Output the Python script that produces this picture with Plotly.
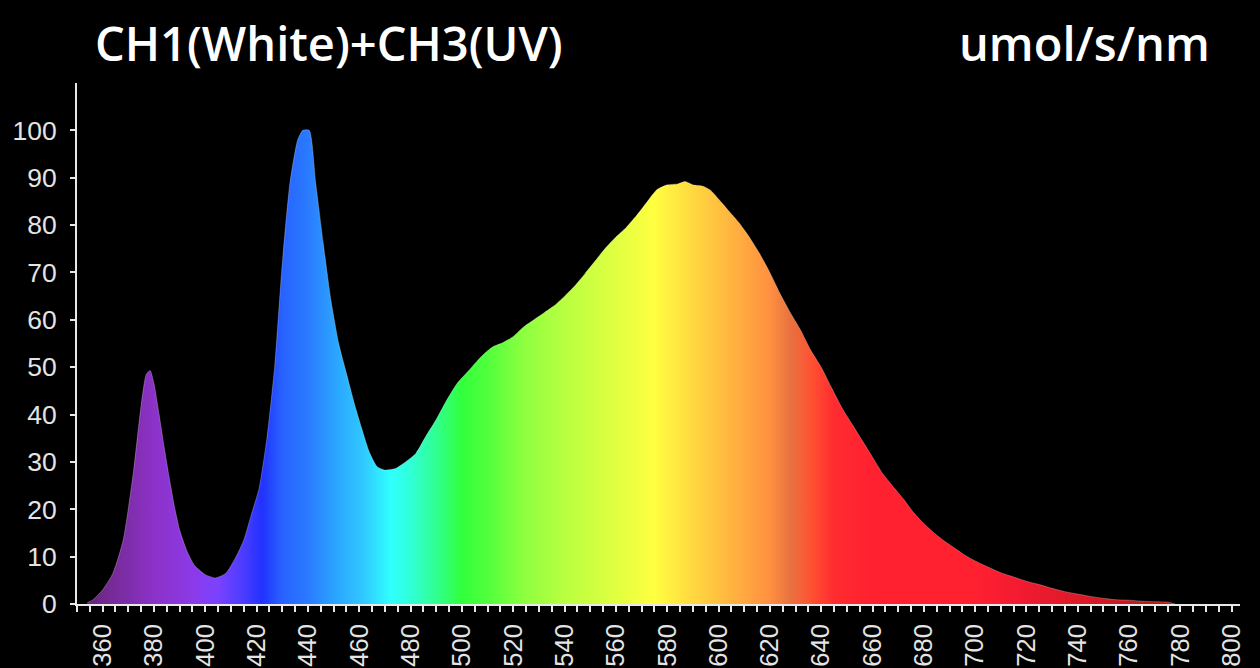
import plotly.graph_objects as go

# ---- data ----
wavelength_nm = [354, 356, 360, 364, 368, 372, 375, 377, 378.5, 380, 382, 384, 386, 388, 390,
                 393, 396, 400, 404, 408, 412, 415, 418, 421, 424, 427, 430, 433, 436, 438,
                 440.5, 443, 446, 449, 452, 455, 458, 461, 464, 467, 470, 474, 478, 482, 486,
                 490, 494, 498, 503, 508, 512, 516, 520, 524, 528, 532, 536, 540, 544, 548,
                 552, 556, 560, 564, 568, 572, 576, 580, 584, 587, 590, 594, 597, 600, 604,
                 608, 612, 616, 620, 624, 628, 632, 636, 640, 644, 648, 652, 656, 660, 664,
                 668, 672, 676, 680, 684, 688, 692, 696, 700, 705, 710, 715, 720, 725, 730,
                 735, 740, 745, 750, 755, 760, 765, 770, 775, 778]
intensity = [0.3, 0.8, 3.0, 6.5, 13.5, 28.0, 42.0, 48.5, 49.3, 46.5, 40.0, 33.0, 26.5, 20.5, 15.6,
             11.0, 8.0, 6.2, 5.5, 6.5, 10.0, 13.5, 19.0, 24.5, 35.0, 50.0, 72.0, 89.0, 98.0, 100.0,
             100.0, 89.0, 76.0, 64.0, 55.0, 48.7, 42.5, 37.0, 32.0, 29.0, 28.3, 28.6, 30.0, 31.8, 35.5,
             39.0, 43.0, 46.5, 49.5, 52.5, 54.3, 55.2, 56.5, 58.5, 60.0, 61.5, 63.0, 65.0, 67.2, 69.8,
             72.5, 75.2, 77.5, 79.5, 82.0, 84.8, 87.5, 88.5, 88.7, 89.2, 88.5, 88.2, 87.3, 85.5, 83.0,
             80.5, 77.5, 74.0, 70.0, 65.5, 61.5, 57.8, 53.5, 50.0, 45.7, 41.5, 38.0, 34.5, 31.0, 27.5,
             24.8, 22.2, 19.3, 17.0, 15.0, 13.3, 11.8, 10.3, 9.1, 7.8, 6.6, 5.7, 4.8, 4.1, 3.3,
             2.6, 2.1, 1.6, 1.2, 0.9, 0.8, 0.6, 0.5, 0.4, 0.0]

y_tick_values = [0, 10, 20, 30, 40, 50, 60, 70, 80, 90, 100]
x_tick_values = [360, 380, 400, 420, 440, 460, 480, 500, 520, 540, 560, 580,
                 600, 620, 640, 660, 680, 700, 720, 740, 760, 780, 800]

title_left = "CH1(White)+CH3(UV)"
title_right = "umol/s/nm"

# ---- style ----
X_MIN, X_MAX = 350, 803.2
Y_MIN, Y_MAX = 0, 110

spectrum_stops_nm = [350, 362, 380, 395, 405, 415, 422, 430, 440, 450, 462, 472,
                     480, 490, 500, 510, 525, 540, 560, 575, 590, 600, 610, 620,
                     628, 636, 645, 660, 700, 720, 745, 770, 803.2]
spectrum_stops_color = ["#5e2474", "#742a92", "#8c32c8", "#8c3ae8", "#7a42ff", "#4a3cff",
                        "#2232ff", "#2862ff", "#2a7aff", "#2aa2ff", "#30caff", "#30ffff",
                        "#30ffd8", "#30ff90", "#32ff3c", "#52ff3c", "#90ff40", "#b8ff40",
                        "#e0ff40", "#ffff40", "#ffd840", "#ffc040", "#ffa840", "#ff9040",
                        "#e87240", "#ff5232", "#ff2c30", "#ff2030", "#ff2030", "#f01a30",
                        "#d81a26", "#b81818", "#a01414"]
colorscale = [[(w - X_MIN) / (X_MAX - X_MIN), c]
              for w, c in zip(spectrum_stops_nm, spectrum_stops_color)]
colorscale[0][0] = 0.0
colorscale[-1][0] = 1.0

AXIS_COLOR = "#e8e8e8"
Y_TICK_FONT = dict(family="Liberation Sans, Arial, sans-serif", size=26.5, color="#e4e4e4")
X_TICK_FONT = dict(family="Liberation Sans, Arial, sans-serif", size=25.5, color="#e4e4e4")

fig = go.Figure()
fig.add_trace(go.Scatter(
    x=wavelength_nm,
    y=intensity,
    mode="lines",
    line=dict(color="rgba(255,255,255,0.25)", width=1, shape="spline", smoothing=0.6),
    fill="tozeroy",
    fillgradient=dict(type="horizontal", colorscale=colorscale, start=X_MIN, stop=X_MAX),
    hoverinfo="skip",
    showlegend=False,
))

fig.update_layout(
    width=1260,
    height=668,
    paper_bgcolor="black",
    plot_bgcolor="black",
    margin=dict(l=77, r=20, t=83, b=64, autoexpand=False),
    showlegend=False,
)

fig.update_xaxes(
    range=[X_MIN, X_MAX],
    automargin=False,
    showgrid=False,
    zeroline=False,
    showline=True,
    linecolor=AXIS_COLOR,
    linewidth=2,
    tickmode="array",
    tickvals=x_tick_values,
    ticktext=[str(v) for v in x_tick_values],
    ticks="outside",
    ticklen=6,
    tickwidth=1.5,
    tickcolor=AXIS_COLOR,
    tickangle=-90,
    tickfont=X_TICK_FONT,
    ticklabelstandoff=2,
    minor=dict(tick0=350, dtick=5, ticks="outside", ticklen=6, tickwidth=1.5,
               tickcolor=AXIS_COLOR, showgrid=False),
)

fig.update_yaxes(
    range=[Y_MIN, Y_MAX],
    automargin=False,
    showgrid=False,
    zeroline=False,
    showline=True,
    linecolor=AXIS_COLOR,
    linewidth=2,
    tickmode="array",
    tickvals=y_tick_values,
    ticktext=[str(v) for v in y_tick_values],
    ticks="outside",
    ticklen=5,
    tickwidth=2,
    tickcolor=AXIS_COLOR,
    tickfont=Y_TICK_FONT,
    ticklabelstandoff=8,
)

TITLE_FONT = dict(family="Open Sans, Noto Sans, sans-serif", size=47, color="white", weight=600)
fig.add_annotation(
    text=title_left, xref="paper", yref="paper", x=0.0138, y=1.076,
    xanchor="left", yanchor="middle", showarrow=False, font=TITLE_FONT,
)
fig.add_annotation(
    text=title_right, xref="paper", yref="paper", x=0.976, y=1.076,
    xanchor="right", yanchor="middle", showarrow=False, font=TITLE_FONT,
)

fig.write_html(
    "out.html",
    config={"displayModeBar": False},
    post_script="document.body.style.margin='0';document.body.style.background='black';",
)
